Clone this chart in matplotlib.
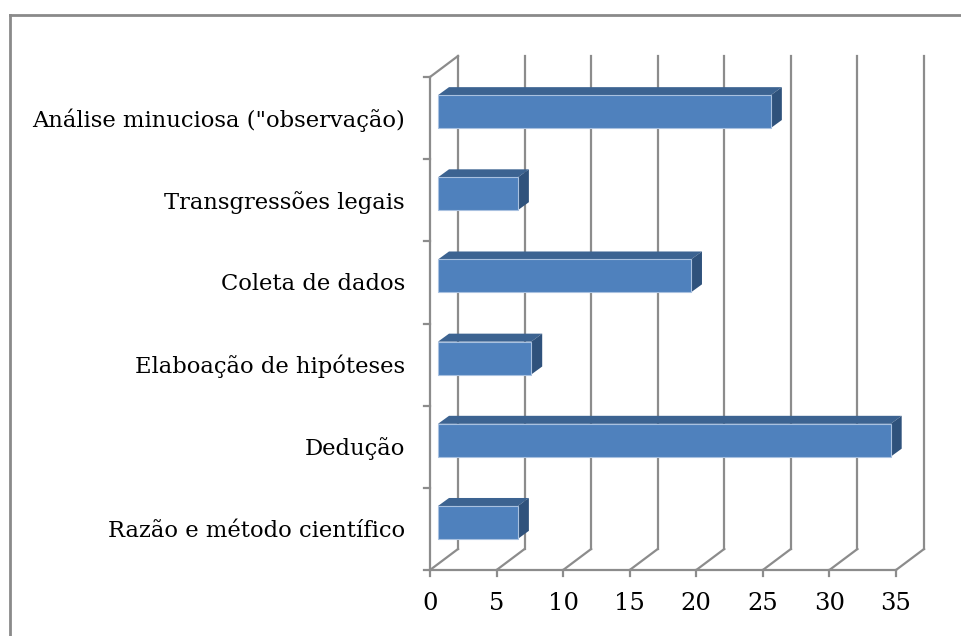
import matplotlib.pyplot as plt
import matplotlib.transforms as mtransforms
from matplotlib.patches import Polygon, Rectangle

categories = [
    "Razão e método científico",
    "Dedução",
    "Elaboação de hipóteses",
    "Coleta de dados",
    "Transgressões legais",
    'Análise minuciosa ("observação)',
]
values = [6, 34, 7, 19, 6, 25]
xticks = [0, 5, 10, 15, 20, 25, 30, 35]

W, H = 961, 636
fig = plt.figure(figsize=(W / 100, H / 100), dpi=100)

# front x axis spans 430..896 px, y 570..77 px (pixels from top)
x0, x1 = 430, 896
yb, yt = 570, 77
ax = fig.add_axes([x0 / W, (H - yb) / H, (x1 - x0) / W, (yb - yt) / H])
ax.set_xlim(0, 35)
ax.set_ylim(0, 6)
ax.axis("off")

grid = "#8c8c8c"
front_c = "#4f81bd"
top_c = "#3c6391"
side_c = "#2f527c"

DX, DY = 28, 21  # depth of the chart walls in px
back = ax.transData + mtransforms.ScaledTranslation(DX / 100, DY / 100, fig.dpi_scale_trans)


def pline(xs, ys, **kw):
    fig.lines.append(plt.Line2D(xs, ys, transform=None, color=grid, lw=1.6, **kw))


# back wall gridlines
for t in xticks:
    ax.plot([t, t], [0, 6], color=grid, lw=1.6, transform=back, clip_on=False)

# floor: front axis, diagonals, ticks
ax.plot([0, 35], [0, 0], color=grid, lw=1.6, clip_on=False)
for t in xticks:
    px, py = ax.transData.transform((t, 0))
    pline([px, px + DX], [py, py + DY])
    pline([px, px], [py, py - 6])

# left wall: front axis, ticks, top diagonal
ax.plot([0, 0], [0, 6], color=grid, lw=1.6, clip_on=False)
for i in range(7):
    px, py = ax.transData.transform((0, i))
    pline([px - 6, px], [py, py])
px, py = ax.transData.transform((0, 6))
pline([px, px + DX], [py, py + DY])

# 3D bars
bdx, bdy = 8, 6.5       # front face offset into depth
ddx, ddy = 11, 8        # bar depth
bh = 0.4
for i, v in enumerate(values):
    yc = i + 0.5
    lx, by = ax.transData.transform((0, yc - bh / 2))
    rx, ty = ax.transData.transform((v, yc + bh / 2))
    lx += bdx; rx += bdx; by += bdy; ty += bdy
    fig.patches.append(Polygon([(lx, ty), (rx, ty), (rx + ddx, ty + ddy), (lx + ddx, ty + ddy)],
                               closed=True, transform=None, fc=top_c, ec="none"))
    fig.patches.append(Polygon([(rx, by), (rx + ddx, by + ddy), (rx + ddx, ty + ddy), (rx, ty)],
                               closed=True, transform=None, fc=side_c, ec="none"))
    fig.patches.append(Rectangle((lx, by), rx - lx, ty - by, transform=None,
                                 fc=front_c, ec="#a9c1e0", lw=0.8))

# labels
serif = ["DejaVu Serif"]
lab_tr = ax.transData + mtransforms.ScaledTranslation(-25 / 100, -2 / 100, fig.dpi_scale_trans)
for i, c in enumerate(categories):
    ax.text(0, i + 0.5, c, transform=lab_tr, ha="right", va="center",
            fontsize=16.3, family=serif)
tick_tr = ax.transData + mtransforms.ScaledTranslation(0, -34 / 100, fig.dpi_scale_trans)
for t in xticks:
    ax.text(t, 0, str(t), transform=tick_tr, ha="center", va="center",
            fontsize=17.5, family=serif)

# outer chart frame (top and left edges visible)
fig.lines.append(plt.Line2D([10, W], [H - 15, H - 15], transform=None, color="#8a8a8a", lw=2))
fig.lines.append(plt.Line2D([10, 10], [0, H - 15], transform=None, color="#8a8a8a", lw=2))

fig.savefig("out.png", dpi=100)
